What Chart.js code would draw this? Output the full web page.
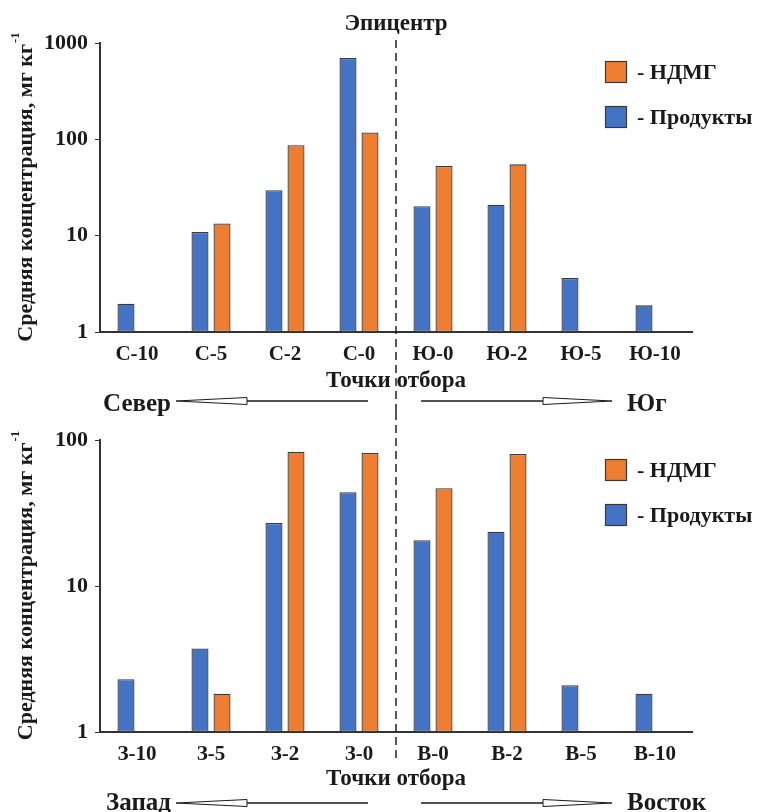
<!DOCTYPE html>
<html>
<head>
<meta charset="utf-8">
<script src="https://cdn.jsdelivr.net/npm/chart.js@4/dist/chart.umd.min.js"></script>
<style>
  html, body { margin: 0; padding: 0; background: #fff; }
  #wrap { position: relative; width: 758px; height: 812px; overflow: hidden; }
  #topBox { position: absolute; left: 0; top: 0; width: 758px; height: 430px; }
  #bottomBox { position: absolute; left: 0; top: 412px; width: 758px; height: 400px; }
</style>
</head>
<body>
<div id="wrap">
  <div id="topBox"><canvas id="nsChart" width="758" height="430"></canvas></div>
  <div id="bottomBox"><canvas id="weChart" width="758" height="400"></canvas></div>
</div>
<script>
// Sampling points along the north–south profile
const nsLabels = ['С-10', 'С-5', 'С-2', 'С-0', 'Ю-0', 'Ю-2', 'Ю-5', 'Ю-10'];
const nsProducts = [1.97, 10.9, 29.6, 700, 20.2, 21.0, 3.64, 1.89];
const nsUDMH = [null, 13.4, 87, 118, 53, 55, null, null];
const nsTicks = [1, 10, 100, 1000];

// Sampling points along the west–east profile
const weLabels = ['З-10', 'З-5', 'З-2', 'З-0', 'В-0', 'В-2', 'В-5', 'В-10'];
const weProducts = [2.3, 3.73, 27.0, 43.9, 20.6, 23.5, 2.09, 1.83];
const weUDMH = [null, 1.83, 83.2, 81.5, 46.7, 80.3, null, null];
const weTicks = [1, 10, 100];

const BLUE = '#4472C4';
const ORANGE = '#ED7D31';
const EDGE = '#3a3a3a';
const INK = '#1a1a1a';
const SERIF = "'Liberation Serif', 'Times New Roman', serif";

Chart.defaults.font.family = SERIF;
Chart.defaults.color = INK;

function drawArrow(ctx, tip, base, end, y) {
  ctx.strokeStyle = INK;
  ctx.lineWidth = 1.5;
  ctx.beginPath();
  ctx.moveTo(base, y);
  ctx.lineTo(end, y);
  ctx.stroke();
  ctx.beginPath();
  ctx.moveTo(tip, y);
  ctx.lineTo(base, y - 3.5);
  ctx.lineTo(base, y + 3.5);
  ctx.closePath();
  ctx.fillStyle = '#fff';
  ctx.fill();
  ctx.lineWidth = 1;
  ctx.stroke();
}

const decor = {
  id: 'decor',
  afterDraw(chart, args, o) {
    const ctx = chart.ctx;
    const ca = chart.chartArea;
    const xs = chart.scales.x;
    ctx.save();

    // divider through the epicentre
    const xd = (xs.getPixelForTick(3) + xs.getPixelForTick(4)) / 2;
    ctx.strokeStyle = '#222';
    ctx.lineWidth = 1.5;
    ctx.setLineDash([8, 5]);
    ctx.beginPath();
    ctx.moveTo(xd, o.dashFrom);
    ctx.lineTo(xd, o.dashTo);
    ctx.stroke();
    ctx.setLineDash([]);

    if (o.epicentre) {
      ctx.fillStyle = INK;
      ctx.font = 'bold 23px ' + SERIF;
      ctx.textAlign = 'center';
      ctx.textBaseline = 'alphabetic';
      ctx.fillText('Эпицентр', xd, 30);
    }

    // rotated y-axis title with superscript
    ctx.save();
    ctx.translate(26, (ca.top + ca.bottom) / 2);
    ctx.rotate(-Math.PI / 2);
    const main = 'Средняя концентрация, мг кг';
    const mainFont = 'bold 22px ' + SERIF;
    const supFont = 'bold 13px ' + SERIF;
    ctx.font = mainFont;
    const wm = ctx.measureText(main).width;
    ctx.font = supFont;
    const ws = ctx.measureText('-1').width;
    const x0 = -(wm + ws) / 2;
    ctx.fillStyle = INK;
    ctx.textAlign = 'left';
    ctx.textBaseline = 'middle';
    ctx.font = mainFont;
    ctx.fillText(main, x0, 0);
    ctx.font = supFont;
    ctx.fillText('-1', x0 + wm + 1, -10);
    ctx.restore();

    // legend
    const items = [['- НДМГ', ORANGE], ['- Продукты', BLUE]];
    items.forEach((it, i) => {
      const y = o.legendY + i * 45;
      ctx.fillStyle = it[1];
      ctx.fillRect(605, y - 11, 22, 22);
      ctx.strokeStyle = EDGE;
      ctx.lineWidth = 1.2;
      ctx.strokeRect(605.5, y - 10.5, 21, 21);
      ctx.fillStyle = INK;
      ctx.font = 'bold 22px ' + SERIF;
      ctx.textAlign = 'left';
      ctx.textBaseline = 'middle';
      ctx.fillText(it[0], 637, y + 1);
    });

    // direction arrows
    const ay = o.arrowY;
    drawArrow(ctx, 176, 247, 368, ay);
    drawArrow(ctx, 612, 543, 421, ay);
    ctx.fillStyle = INK;
    ctx.font = 'bold 25px ' + SERIF;
    ctx.textBaseline = 'alphabetic';
    ctx.textAlign = 'right';
    ctx.fillText(o.leftWord, 171, o.wordBase);
    ctx.textAlign = 'left';
    ctx.fillText(o.rightWord, 627, o.wordBase);

    ctx.restore();
  }
};

function buildChart(id, labels, products, udmh, ticks, pad, axisH, opts) {
  return new Chart(document.getElementById(id), {
    type: 'bar',
    data: {
      labels: labels,
      datasets: [
        { label: 'Продукты', data: products, backgroundColor: BLUE, borderColor: EDGE, borderWidth: 1.3, borderSkipped: false },
        { label: 'НДМГ', data: udmh, backgroundColor: ORANGE, borderColor: EDGE, borderWidth: 1.3, borderSkipped: false }
      ]
    },
    options: {
      responsive: false,
      animation: false,
      categoryPercentage: 0.595,
      barPercentage: 0.773,
      layout: { padding: pad },
      plugins: {
        legend: { display: false },
        tooltip: { enabled: false },
        decor: opts
      },
      scales: {
        x: {
          grid: { display: false, drawTicks: false },
          border: { display: true, color: '#333', width: 2 },
          ticks: { font: { size: 21, weight: 'bold' }, color: INK, padding: 10 },
          title: { display: true, text: 'Точки отбора', font: { size: 23, weight: 'bold' }, color: INK, padding: { top: 0, bottom: 0 } },
          afterFit(s) { s.height = axisH; }
        },
        y: {
          type: 'logarithmic',
          min: ticks[0],
          max: ticks[ticks.length - 1],
          grid: { drawOnChartArea: false, drawTicks: true, tickLength: 5, color: '#333' },
          border: { display: true, color: '#333', width: 2 },
          ticks: { font: { size: 22, weight: 'bold' }, color: INK, padding: 7, callback: v => String(v) },
          afterBuildTicks(s) { s.ticks = ticks.map(v => ({ value: v })); },
          afterFit(s) { s.width = 100; }
        }
      }
    },
    plugins: [decor]
  });
}

buildChart('nsChart', nsLabels, nsProducts, nsUDMH, nsTicks,
  { left: 0, right: 66, top: 43, bottom: 35 }, 63,
  { epicentre: true, dashFrom: 40, dashTo: 412, legendY: 72, arrowY: 401, wordBase: 411, leftWord: 'Север', rightWord: 'Юг' });

buildChart('weChart', weLabels, weProducts, weUDMH, weTicks,
  { left: 0, right: 66, top: 28, bottom: 19 }, 61,
  { epicentre: false, dashFrom: 0, dashTo: 350, legendY: 58, arrowY: 391, wordBase: 398, leftWord: 'Запад', rightWord: 'Восток' });
</script>
</body>
</html>
